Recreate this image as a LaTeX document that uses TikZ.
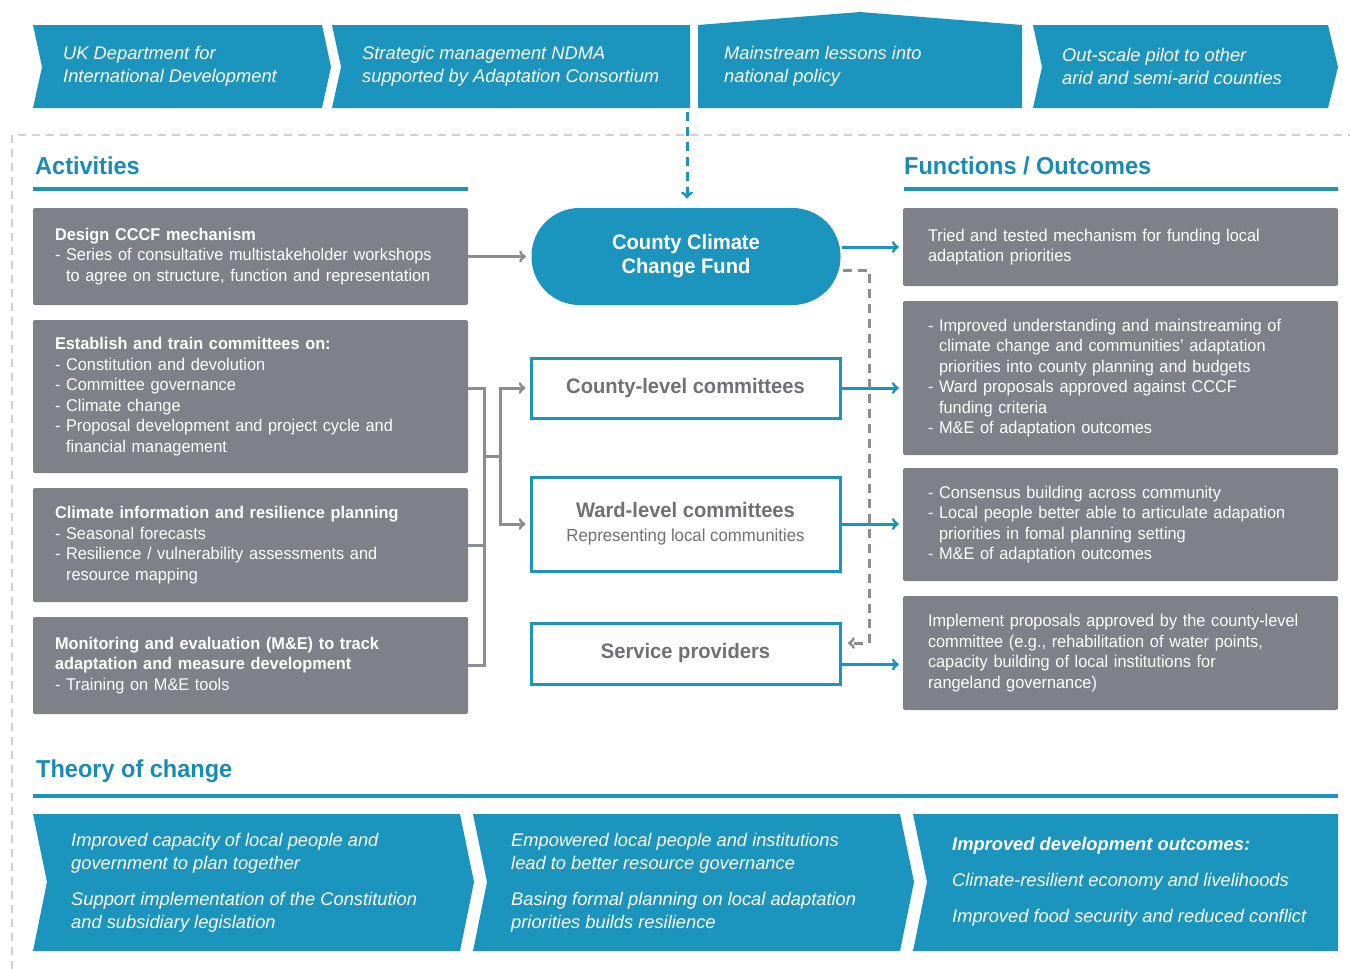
\documentclass[tikz,border=0pt]{standalone}
\usepackage{fontspec}
\setmainfont{Liberation Sans}[FakeStretch=0.96]
\newfontfamily\bnrfont{Liberation Sans}
\usepackage{xcolor}
\usetikzlibrary{arrows}
\definecolor{tealb}{RGB}{27,149,190}
\definecolor{headc}{RGB}{24,140,182}
\definecolor{boxg}{RGB}{128,128,136}
\definecolor{txtg}{RGB}{112,112,120}
\definecolor{lnkg}{RGB}{140,140,148}
\definecolor{frmg}{RGB}{210,210,214}

\begin{document}
\begin{tikzpicture}[x=1pt,y=-1pt,
    bodyfont/.style={font=\fontsize{17}{20.5}\selectfont},
    actbox/.style={bodyfont,fill=boxg,text=white,rounded corners=2pt,minimum width=435pt,
      text width=391pt,inner xsep=22pt,align=left},
    outbox/.style={actbox,text width=385pt,inner xsep=25pt},
    midbox/.style={draw=tealb,line width=3pt,fill=white,minimum width=309pt,text=txtg,
      align=center,font=\bfseries\fontsize{21}{24}\selectfont},
    bnrtxt/.style={text=white,anchor=west,align=left,inner sep=0pt,
      font=\bnrfont\itshape\fontsize{18.3}{23}\selectfont},
    head/.style={text=headc,anchor=west,inner sep=0pt,font=\bfseries\fontsize{24.5}{30}\selectfont},
    hline/.style={tealb,line width=4pt},
    tlk/.style={tealb,line width=3pt,->,shorten >=4pt},
    lnk/.style={lnkg,line width=3pt},
    fbk/.style={lnkg,line width=3pt,dash pattern=on 9pt off 6pt,->}]
  \useasboundingbox (0,0) rectangle (1350,969);

  % frame
  \draw[frmg,line width=2pt,dash pattern=on 8pt off 6pt] (12,969) -- (12,135) -- (1350,135);

  % top banners
  \fill[tealb] (33,25) -- (322,25) -- (331,67) -- (322,108) -- (33,108) -- (42,67) -- cycle;
  \fill[tealb] (332,25) -- (690,25) -- (690,108) -- (332,108) -- (341,67) -- cycle;
  \fill[tealb] (698,25) -- (860,12) -- (1022,25) -- (1022,108) -- (698,108) -- cycle;
  \fill[tealb] (1033,25) -- (1328,25) -- (1338,67) -- (1328,108) -- (1033,108) -- (1042,67) -- cycle;
  \node[bnrtxt] (b1) at (63,66.5) {UK Department for\\International Development};
  \node[bnrtxt] (b2) at (362,66.5) {Strategic management NDMA\\supported by Adaptation Consortium};
  \node[bnrtxt] (b3) at (724,66.5) {Mainstream lessons into\\national policy};
  \node[bnrtxt] (b4) at (1062,66.5) {Out-scale pilot to other\\arid and semi-arid counties};

  % headings
  \node[head] (act) at (35,166) {Activities};
  \draw[hline] (33,189) -- (468,189);
  \node[head] (fun) at (904,166) {Functions / Outcomes};
  \draw[hline] (904,189) -- (1338,189);

  % activities
  \node[actbox,minimum height=97pt] (dsg) at (250.5,256.5) {\textbf{Design CCCF mechanism}\\
    - Series of consultative multistakeholder workshops\\
    \phantom{- }to agree on structure, function and representation};
  \node[actbox,minimum height=153pt] (trn) at (250.5,396.5) {\textbf{Establish and train committees on:}\\
    - Constitution and devolution\\- Committee governance\\- Climate change\\
    - Proposal development and project cycle and\\\phantom{- }financial management};
  \node[actbox,minimum height=114pt] (cli) at (250.5,545) {\textbf{Climate information and resilience planning}\\
    - Seasonal forecasts\\- Resilience / vulnerability assessments and\\\phantom{- }resource mapping};
  \node[actbox,minimum height=97pt] (mne) at (250.5,665.5) {\textbf{Monitoring and evaluation (M\&E) to track}\\
    \textbf{adaptation and measure development}\\- Training on M\&E tools};

  % middle column
  \node[midbox,fill=tealb,draw=none,text=white,rounded corners=48pt,minimum height=97pt]
    (fund) at (686,256.5) {County Climate\\Change Fund};
  \node[midbox,minimum height=60pt] (cty) at (685.5,388) {County-level committees};
  \node[midbox,minimum height=94pt] (wrd) at (685.5,524) {Ward-level committees\\
    {\mdseries\fontsize{17.5}{20.5}\selectfont Representing local communities}};
  \node[midbox,minimum height=61pt] (svc) at (685.5,653.5) {Service providers};

  % outcomes
  \node[outbox,minimum height=78pt] (ot1) at (1120.5,247) {Tried and tested mechanism for funding local\\
    adaptation priorities};
  \node[outbox,minimum height=154pt] (ot2) at (1120.5,378) {- Improved understanding and mainstreaming of\\
    \phantom{- }climate change and communities' adaptation\\
    \phantom{- }priorities into county planning and budgets\\
    - Ward proposals approved against CCCF\\\phantom{- }funding criteria\\
    - M\&E of adaptation outcomes};
  \node[outbox,minimum height=113pt] (ot3) at (1120.5,524.5) {- Consensus building across community\\
    - Local people better able to articulate adapation\\
    \phantom{- }priorities in fomal planning setting\\
    - M\&E of adaptation outcomes};
  \node[outbox,minimum height=114pt] (ot4) at (1120.5,653) {Implement proposals approved by the county-level\\
    committee (e.g., rehabilitation of water points,\\
    capacity building of local institutions for\\rangeland governance)};

  % connectors
  \coordinate (src) at (687,112);
  \draw[tealb,line width=3pt,dash pattern=on 9pt off 6pt,->,shorten >=8pt] (src) -- (src |- fund.north);
  \draw[lnk,->,shorten >=4pt] (dsg) -- (fund);

  \coordinate (knk) at (484,456);
  \coordinate (jnc) at (500,456);
  \draw[lnk] (trn.east |- cty) -- ++(16,0) coordinate (bt) -- (bt |- mne.east) -- (mne.east);
  \draw[lnk] (cli.east) -- (cli.east -| bt);
  \draw[lnk] (knk) -- (jnc);
  \draw[lnk,->,shorten >=4pt] (jnc) |- (cty.west);
  \draw[lnk,->,shorten >=4pt] (jnc) |- (wrd.west);

  \draw[tlk] (fund.east |- ot1.west) -- (ot1.west);
  \draw[tlk] (cty.east) -- (cty.east -| ot2.west);
  \draw[tlk] (wrd.east) -- (wrd.east -| ot3.west);
  \draw[tlk] ([yshift=-11pt]svc.east) -- ([yshift=-11pt]svc.east -| ot4.west);

  \coordinate (fb) at (843,270);
  \coordinate (fk) at (869,643);
  \coordinate (fe) at (848,643);
  \draw[fbk] (fb) -| (fk) -- (fe);

  % theory of change
  \node[head] (toc) at (36,771) {Theory of change};
  \draw[hline] (33,796) -- (1338,796);
  \fill[tealb] (33,814) -- (460,814) -- (474,882) -- (460,951) -- (33,951) -- (47,882) -- cycle;
  \fill[tealb] (473,814) -- (900,814) -- (914,882) -- (900,951) -- (473,951) -- (487,882) -- cycle;
  \fill[tealb] (913,814) -- (1338,814) -- (1338,951) -- (913,951) -- (927,882) -- cycle;
  \node[bnrtxt] (t1) at (71,882.5) {Improved capacity of local people and\\government to plan together\\[13pt]
    Support implementation of the Constitution\\and subsidiary legislation};
  \node[bnrtxt] (t2) at (511,882.5) {Empowered local people and institutions\\lead to better resource governance\\[13pt]
    Basing formal planning on local adaptation\\priorities builds resilience};
  \node[bnrtxt] (t3) at (952,882) {\textbf{Improved development outcomes:}\\[13pt]
    Climate-resilient economy and livelihoods\\[13pt]Improved food security and reduced conflict};
\end{tikzpicture}
\end{document}
